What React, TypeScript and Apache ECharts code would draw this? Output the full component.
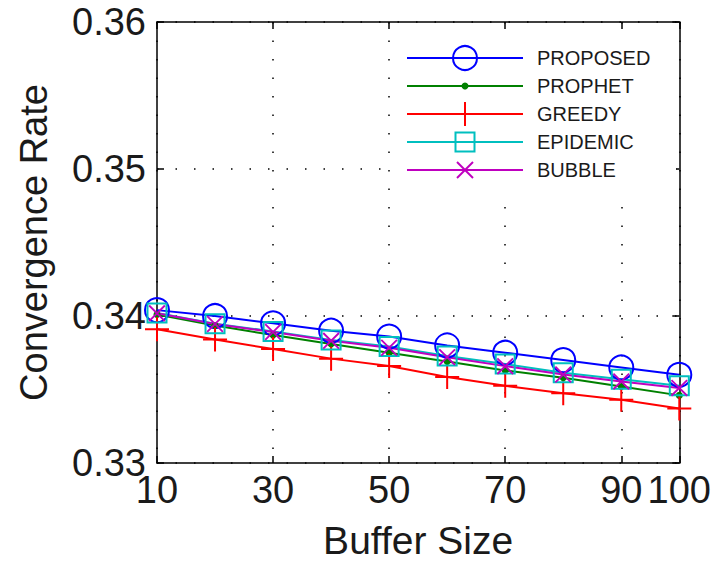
import React, { useEffect, useRef } from "react";
import * as echarts from "echarts";

// Buffer sizes on the x axis
const bufferSizes = ["10", "20", "30", "40", "50", "60", "70", "80", "90", "100"];
// Which buffer sizes carry a label / tick / grid line
const labelledSizes = ["10", "30", "50", "70", "90", "100"];
const yTickValues = [0.33, 0.34, 0.35, 0.36];

// Convergence rate per routing scheme
const proposed = [0.3404, 0.34, 0.3395, 0.339, 0.3386, 0.338, 0.3375, 0.337, 0.3365, 0.336];
const prophet = [0.3401, 0.33935, 0.3387, 0.3381, 0.3375, 0.3369, 0.3363, 0.3358, 0.3352, 0.3346];
const greedy = [0.3391, 0.3384, 0.33775, 0.3371, 0.3366, 0.33585, 0.33525, 0.33475, 0.3343, 0.3337];
const epidemic = [0.3402, 0.33948, 0.33895, 0.33836, 0.33792, 0.33728, 0.33673, 0.33614, 0.3357, 0.33525];
const bubble = [0.34018, 0.33946, 0.33891, 0.33831, 0.33784, 0.3372, 0.33659, 0.33602, 0.33555, 0.33511];

const seriesNames = ["PROPOSED", "PROPHET", "GREEDY", "EPIDEMIC", "BUBBLE"];

const FONT = '"Liberation Sans", Arial, Helvetica, sans-serif';
const TEXT_COLOR = "#1a1a1a";

const BLUE = "#0000ff";
const GREEN = "#008000";
const RED = "#ff0000";
const CYAN = "#00bfbf";
const MAGENTA = "#bf00bf";

const PLUS_PATH = "path://M11,0H13V24H11Z M0,11H24V13H0Z";
const CROSS_PATH = "path://M1,-1L25,23L23,25L-1,1Z M23,-1L25,1L1,25L-1,23Z";

const showIndex = (index: number) => labelledSizes.includes(bufferSizes[index]);

function legendGraphics() {
  const x0 = 407;
  const x1 = 523;
  const mx = 465;
  const textX = 537;
  const top = 58;
  const step = 28;
  const colors = [BLUE, GREEN, RED, CYAN, MAGENTA];
  const els: any[] = [
    // opaque legend panel over the grid
    {
      type: "rect",
      z: 20,
      shape: { x: 392, y: 36, width: 284, height: 154 },
      style: { fill: "#fff" },
    },
  ];
  seriesNames.forEach((name, i) => {
    const y = top + i * step;
    const c = colors[i];
    els.push({
      type: "line",
      z: 21,
      shape: { x1: x0, y1: y, x2: x1, y2: y },
      style: { stroke: c, lineWidth: 2 },
    });
    if (i === 0) {
      els.push({ type: "circle", z: 22, shape: { cx: mx, cy: y, r: 12 }, style: { fill: "none", stroke: c, lineWidth: 2 } });
    } else if (i === 1) {
      els.push({ type: "circle", z: 22, shape: { cx: mx, cy: y, r: 3.5 }, style: { fill: c } });
    } else if (i === 2) {
      els.push({ type: "line", z: 22, shape: { x1: mx, y1: y - 12, x2: mx, y2: y + 12 }, style: { stroke: c, lineWidth: 2 } });
    } else if (i === 3) {
      els.push({
        type: "rect",
        z: 22,
        shape: { x: mx - 9.5, y: y - 9.5, width: 19, height: 19 },
        style: { fill: "none", stroke: c, lineWidth: 2 },
      });
    } else {
      els.push({ type: "line", z: 22, shape: { x1: mx - 8, y1: y - 8, x2: mx + 8, y2: y + 8 }, style: { stroke: c, lineWidth: 2 } });
      els.push({ type: "line", z: 22, shape: { x1: mx + 8, y1: y - 8, x2: mx - 8, y2: y + 8 }, style: { stroke: c, lineWidth: 2 } });
    }
    els.push({
      type: "text",
      z: 22,
      x: textX,
      y,
      style: {
        text: name,
        fill: TEXT_COLOR,
        fontSize: 20,
        fontFamily: FONT,
        verticalAlign: "middle",
        align: "left",
      },
    });
  });
  return els;
}

export default function App() {
  const ref = useRef<HTMLDivElement>(null);

  useEffect(() => {
    if (!ref.current) return;
    const chart = echarts.init(ref.current, undefined, { renderer: "svg" });

    const axisLine = { show: true, lineStyle: { color: "#000", width: 1.5 } };
    const insideTick = { show: true, inside: true, length: 7, lineStyle: { color: "#000", width: 1.5 } };
    const dotted = { color: "#000", width: 1.5, type: [1.5, 17] as any };

    const line = (name: string, data: number[], color: string, extra: any) => ({
      name,
      type: "line",
      data,
      xAxisIndex: 0,
      yAxisIndex: 0,
      lineStyle: { color, width: 2 },
      itemStyle: { color },
      ...extra,
    });

    chart.setOption({
      animation: false,
      backgroundColor: "#fff",
      grid: { left: 157, right: 34, top: 22, bottom: 97, containLabel: false },
      xAxis: [
        {
          type: "category",
          data: bufferSizes,
          boundaryGap: false,
          position: "bottom",
          name: "Buffer Size",
          nameLocation: "middle",
          nameGap: 58,
          nameTextStyle: { fontSize: 39, fontFamily: FONT, color: TEXT_COLOR },
          axisLine,
          axisTick: { ...insideTick, interval: (i: number) => showIndex(i) },
          axisLabel: {
            interval: (i: number) => showIndex(i),
            fontSize: 38,
            fontFamily: FONT,
            color: TEXT_COLOR,
            margin: 8,
          },
          splitLine: { show: true, interval: (i: number) => showIndex(i), lineStyle: dotted },
        },
        {
          type: "category",
          data: bufferSizes,
          boundaryGap: false,
          position: "top",
          axisLine,
          axisTick: { ...insideTick, interval: (i: number) => showIndex(i) },
          axisLabel: { show: false },
          splitLine: { show: false },
        },
      ],
      yAxis: [
        {
          type: "value",
          min: yTickValues[0],
          max: yTickValues[yTickValues.length - 1],
          interval: 0.01,
          position: "left",
          name: "Convergence Rate",
          nameLocation: "middle",
          nameGap: 104,
          nameTextStyle: { fontSize: 38, fontFamily: FONT, color: TEXT_COLOR },
          axisLine,
          axisTick: insideTick,
          axisLabel: {
            fontSize: 38,
            fontFamily: FONT,
            color: TEXT_COLOR,
            margin: 11,
            formatter: (v: number) => v.toFixed(2),
          },
          splitLine: { show: true, lineStyle: dotted },
        },
        {
          type: "value",
          min: yTickValues[0],
          max: yTickValues[yTickValues.length - 1],
          interval: 0.01,
          position: "right",
          axisLine,
          axisTick: insideTick,
          axisLabel: { show: false },
          splitLine: { show: false },
        },
      ],
      series: [
        line(seriesNames[0], proposed, BLUE, {
          symbol: "circle",
          symbolSize: 24,
          itemStyle: { color: "rgba(0,0,0,0)", borderColor: BLUE, borderWidth: 2 },
        }),
        line(seriesNames[1], prophet, GREEN, { symbol: "circle", symbolSize: 7 }),
        line(seriesNames[2], greedy, RED, { symbol: PLUS_PATH, symbolSize: 24 }),
        line(seriesNames[3], epidemic, CYAN, {
          symbol: "rect",
          symbolSize: 19,
          itemStyle: { color: "rgba(0,0,0,0)", borderColor: CYAN, borderWidth: 2 },
        }),
        line(seriesNames[4], bubble, MAGENTA, { symbol: CROSS_PATH, symbolSize: 17 }),
      ],
      graphic: legendGraphics(),
    });

    return () => chart.dispose();
  }, []);

  return <div ref={ref} style={{ position: "fixed", left: 0, top: 0, width: 714, height: 565 }} />;
}
